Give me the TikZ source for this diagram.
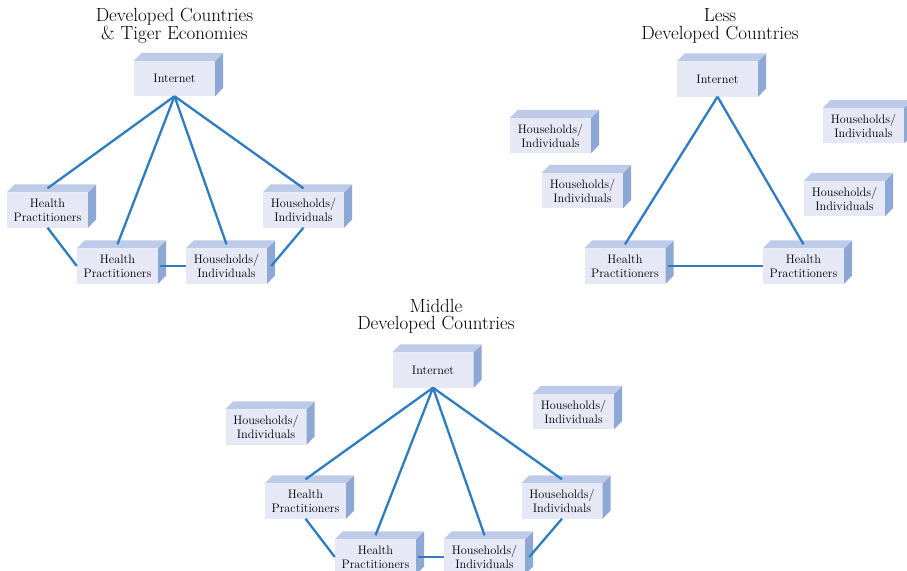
\documentclass[tikz,border=0pt]{standalone}
\usetikzlibrary{calc}
\definecolor{frontc}{RGB}{230,232,246}
\definecolor{topc}{RGB}{190,203,232}
\definecolor{sidec}{RGB}{142,168,214}
\definecolor{linec}{RGB}{46,125,193}
\tikzset{
  cubefront/.style={fill=frontc, minimum width=81pt, minimum height=35pt, inner sep=0pt, align=center, font=\fontsize{12.3}{14}\selectfont},
  link/.style={draw=linec, line width=2.3pt},
  titletext/.style={align=center, font=\fontsize{19}{17.5}\selectfont}
}
\newcommand\cubebox[4]{%
  \node[cubefront] (#1) at (#2,#3) {#4};
  \fill[topc] (#1.north west) -- ++(8,-8) -- ++(81,0) -- (#1.north east) -- cycle;
  \fill[sidec] (#1.north east) -- ++(8,-8) -- ++(0,35) -- (#1.south east) -- cycle;
  \coordinate (#1-t) at ($(#1.north)+(0,-4)$);
}
\begin{document}
\begin{tikzpicture}[x=1pt,y=-1pt]
\fill[white] (0,0) rectangle (907,570);
\useasboundingbox (0,0) rectangle (907,570);

% Titles
\node[titletext] (t1) at (174.5,26) {Developed Countries\\\& Tiger Economies};
\node[titletext] (t2) at (720,26) {Less\\Developed Countries};
\node[titletext] (t3) at (436,316.5) {Middle\\Developed Countries};

% Panel 1
\cubebox{Ia}{174.5}{78.5}{Internet}
\cubebox{HPa}{47.5}{210}{Health\\Practitioners}
\cubebox{HPb}{117.5}{266}{Health\\Practitioners}
\cubebox{HHa}{226.5}{266}{Households/\\Individuals}
\cubebox{HHb}{303.5}{210}{Households/\\Individuals}

% Panel 2
\cubebox{Ib}{717.5}{79}{Internet}
\cubebox{HHc}{550.5}{135.5}{Households/\\Individuals}
\cubebox{HHd}{582.5}{190.5}{Households/\\Individuals}
\cubebox{HHe}{863.5}{125.5}{Households/\\Individuals}
\cubebox{HHf}{844.5}{198.5}{Households/\\Individuals}
\cubebox{HPc}{625}{266}{Health\\Practitioners}
\cubebox{HPd}{803.5}{266}{Health\\Practitioners}

% Panel 3
\cubebox{Ic}{433}{370}{Internet}
\cubebox{HHg}{266}{427}{Households/\\Individuals}
\cubebox{HHh}{573.5}{411.5}{Households/\\Individuals}
\cubebox{HPe}{305.5}{501}{Health\\Practitioners}
\cubebox{HHi}{562}{501}{Households/\\Individuals}
\cubebox{HPf}{375.5}{557}{Health\\Practitioners}
\cubebox{HHj}{484.5}{557}{Households/\\Individuals}

% Connectors panel 1
\draw[link] (Ia.south) -- (HPa-t);
\draw[link] (Ia.south) -- (HPb-t);
\draw[link] (Ia.south) -- (HHa-t);
\draw[link] (Ia.south) -- (HHb-t);
\draw[link] (HPa.south) -- (HPb.west);
\draw[link] ($(HPb.east)+(2,0)$) -- (HHa.west);
\draw[link] (HHb.south) -- ($(HHa.east)+(4,0)$);

% Connectors panel 2
\draw[link] (Ib.south) -- (HPc-t);
\draw[link] (Ib.south) -- (HPd-t);
\draw[link] ($(HPc.east)+(2,0)$) -- (HPd.west);

% Connectors panel 3
\draw[link] (Ic.south) -- (HPe-t);
\draw[link] (Ic.south) -- (HPf-t);
\draw[link] (Ic.south) -- (HHj-t);
\draw[link] (Ic.south) -- (HHi-t);
\draw[link] (HPe.south) -- (HPf.west);
\draw[link] ($(HPf.east)+(2,0)$) -- (HHj.west);
\draw[link] (HHi.south) -- ($(HHj.east)+(4,0)$);
\end{tikzpicture}
\end{document}
